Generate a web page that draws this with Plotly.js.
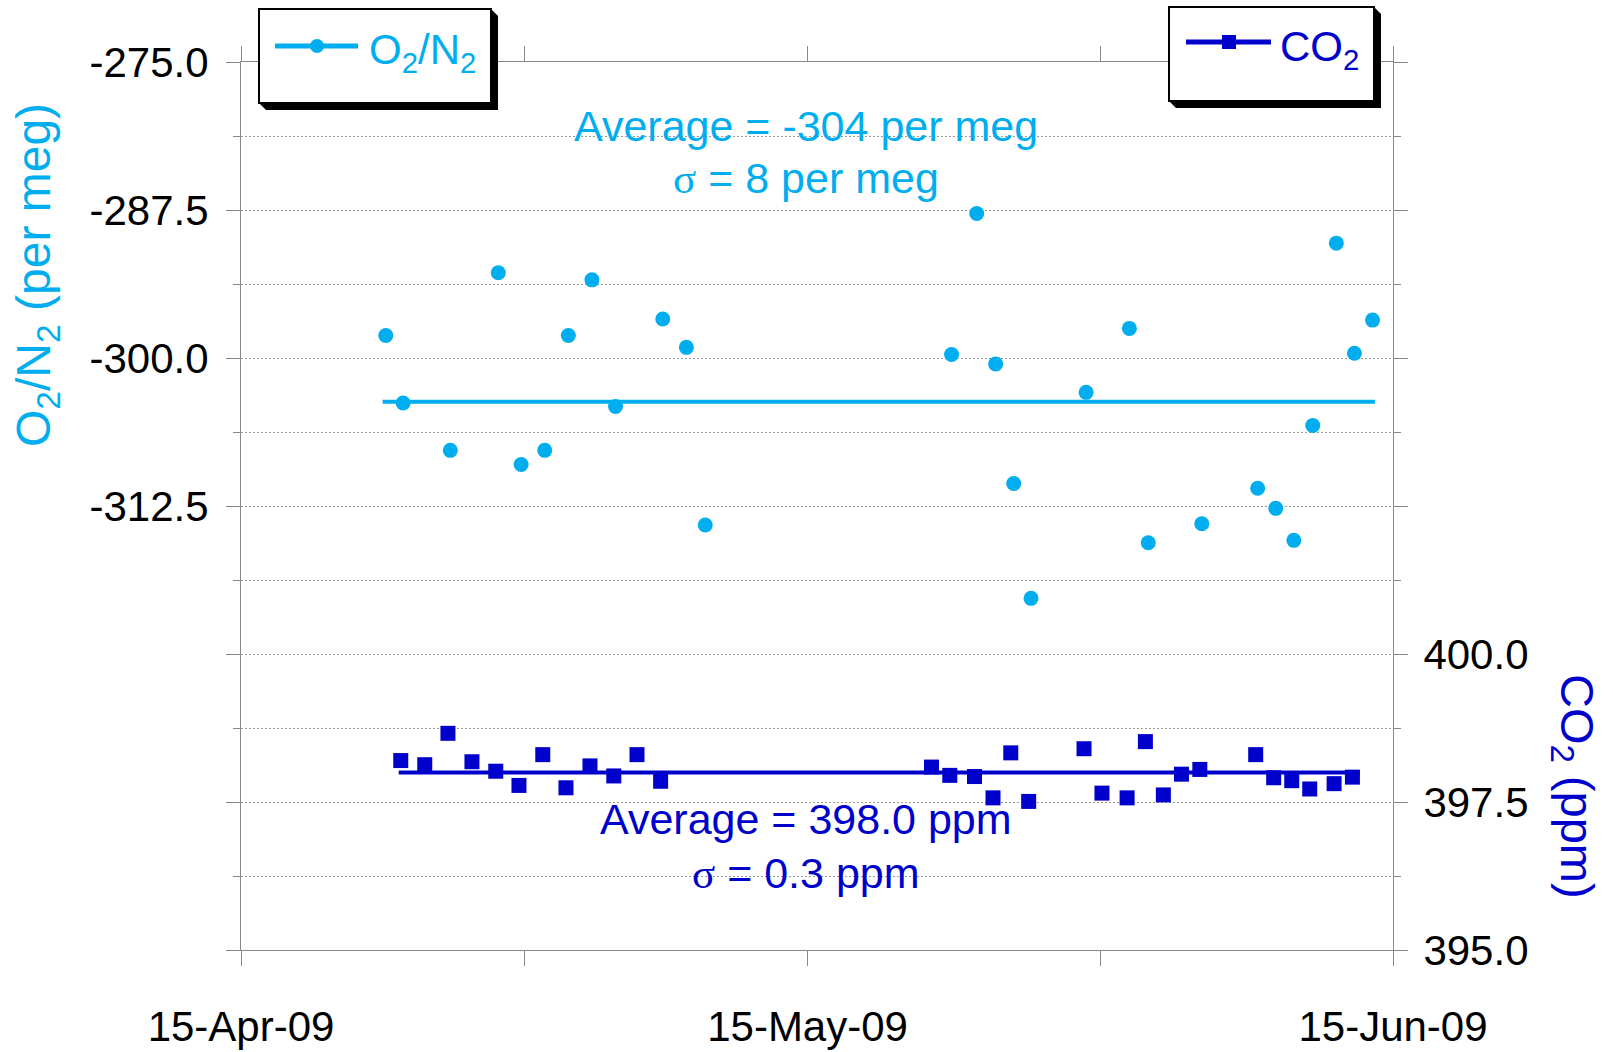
<!DOCTYPE html>
<html><head><meta charset="utf-8">
<script src="https://cdn.plot.ly/plotly-3.0.1.min.js"></script>
<style>html,body{margin:0;padding:0;background:#fff;}#chart{width:1613px;height:1052px;}</style>
</head><body><div id="chart"></div>
<script>
// ---- data ----
const o2Dates = ['2009-04-22 16:00','2009-04-23 14:00','2009-04-26 02:00','2009-04-28 15:00','2009-04-29 20:00','2009-05-01 02:00','2009-05-02 08:00','2009-05-03 14:00','2009-05-04 20:00','2009-05-07 08:00','2009-05-08 14:00','2009-05-09 14:00',
  '2009-05-22 15:00','2009-05-23 23:00','2009-05-24 23:00','2009-05-25 22:00','2009-05-26 20:00','2009-05-29 18:00','2009-06-01 01:00','2009-06-02 01:00','2009-06-04 21:00','2009-06-07 20:00','2009-06-08 19:00','2009-06-09 18:00','2009-06-10 18:00','2009-06-12 00:00','2009-06-12 23:00','2009-06-13 22:00'];
const o2Values = [-298.1,-303.8,-307.8,-292.8,-309.0,-307.8,-298.1,-293.4,-304.1,-296.7,-299.1,-314.1,
  -299.7,-287.8,-300.5,-310.6,-320.3,-302.9,-297.5,-315.6,-314.0,-311.0,-312.7,-315.4,-305.7,-290.3,-299.6,-296.8];
const co2Dates = ['2009-04-23 11:00','2009-04-24 17:30','2009-04-25 23:00','2009-04-27 05:30','2009-04-28 11:45','2009-04-29 17:15','2009-04-30 23:30','2009-05-02 05:00','2009-05-03 11:30','2009-05-04 17:45','2009-05-05 23:15','2009-05-07 05:15',
  '2009-05-21 13:30','2009-05-22 12:45','2009-05-23 20:10','2009-05-24 19:40','2009-05-25 18:15','2009-05-26 17:00','2009-05-29 15:20','2009-05-30 14:10','2009-05-31 22:05','2009-06-01 21:20','2009-06-02 20:10','2009-06-03 19:10','2009-06-04 18:30','2009-06-07 17:30','2009-06-08 16:20','2009-06-09 15:20','2009-06-10 14:10','2009-06-11 21:10','2009-06-12 20:25'];
const co2Values = [398.20,398.13,398.66,398.18,398.02,397.78,398.30,397.74,398.11,397.94,398.30,397.85,
  398.09,397.95,397.93,397.57,398.33,397.51,398.40,397.65,397.57,398.52,397.62,397.97,398.05,398.30,397.91,397.86,397.72,397.81,397.92];
const o2AvgDates = ['2009-04-22 12:00','2009-06-14 01:00'];
const o2Avg = -303.7;
const co2AvgDates = ['2009-04-23 08:25','2009-06-13 05:45'];
const co2Avg = 398.0;

const xRange = ['2009-04-15', '2009-06-15'];
const xTickVals = ['2009-04-15','2009-05-15','2009-06-15'];
const xTickText = ['15-Apr-09','15-May-09','15-Jun-09'];
const xMinorVals = ['2009-04-30','2009-05-30 12:00'];
const o2Range = [-350, -275];
const o2TickVals = [-275,-287.5,-300,-312.5];
const o2TickText = ['-275.0','-287.5','-300.0','-312.5'];
const o2UnlabelledVals = [-325,-337.5,-350];
const o2MinorVals = [-281.25,-293.75,-306.25,-318.75,-331.25,-343.75];
const co2Range = [395, 410];
const co2TickVals = [395,397.5,400];
const co2TickText = ['395.0','397.5','400.0'];
const co2UnlabelledVals = [402.5,405,407.5,410];
const co2MinorVals = [396.25,398.75,401.25,403.75,406.25,408.75];

const o2Label = 'O<sub>2</sub>/N<sub>2</sub>';
const co2Label = 'CO<sub>2</sub>';
const o2AxisTitle = 'O<sub>2</sub>/N<sub>2</sub> (per meg)';
const co2AxisTitle = 'CO<sub>2</sub> (ppm)';
const o2Stats = ['Average = -304 per meg', '<span style="font-family:Liberation Serif">σ</span> = 8 per meg'];
const co2Stats = ['Average = 398.0 ppm', '<span style="font-family:Liberation Serif">σ</span> = 0.3 ppm'];

// ---- styling ----
const O2C = '#00AEEF', CO2C = '#0000CC', AXC = '#888888', GRIDC = '#9a9a9a';
const FONT = 'Arial, "Liberation Sans", sans-serif';
const L = 241, R = 1393, T = 62, B = 950, FW = 1613, FH = 1052;
const W = R - L, H = B - T;
const px = p => (p - L) / W;
const py = p => (B - p) / H;

const traces = [
  {x: o2AvgDates, y: [o2Avg, o2Avg], mode: 'lines', line: {color: O2C, width: 4}, yaxis: 'y3', hoverinfo: 'skip', showlegend: false},
  {x: co2AvgDates, y: [co2Avg, co2Avg], mode: 'lines', line: {color: CO2C, width: 4}, yaxis: 'y4', hoverinfo: 'skip', showlegend: false},
  {x: o2Dates, y: o2Values, mode: 'markers', name: 'O2/N2', marker: {symbol: 'circle', size: 15, color: O2C}, yaxis: 'y', showlegend: false},
  {x: co2Dates, y: co2Values, mode: 'markers', name: 'CO2', marker: {symbol: 'square', size: 15, color: CO2C}, yaxis: 'y2', showlegend: false}
];

function legendShapes(x0, y0, x1, y1, off) {
  const shadow = {type: 'path', xref: 'paper', yref: 'paper', layer: 'above', fillcolor: '#000', line: {width: 0},
    path: `M${px(x0)},${py(y1)} L${px(x0+off)},${py(y1+off)} L${px(x1+off)},${py(y1+off)} L${px(x1+off)},${py(y0+off)} L${px(x1)},${py(y0)} Z`};
  const box = {type: 'rect', xref: 'paper', yref: 'paper', layer: 'above', x0: px(x0), x1: px(x1), y0: py(y1), y1: py(y0),
    fillcolor: '#fff', line: {color: '#000', width: 2}};
  return [shadow, box];
}
const shapes = [
  ...legendShapes(259, 9, 491, 103, 7),
  {type: 'line', xref: 'paper', yref: 'paper', layer: 'above', x0: px(275), x1: px(358), y0: py(46), y1: py(46), line: {color: O2C, width: 5}},
  {type: 'circle', xref: 'paper', yref: 'paper', layer: 'above', x0: px(310), x1: px(324), y0: py(53), y1: py(39), fillcolor: O2C, line: {width: 0}},
  ...legendShapes(1169, 7, 1374, 101, 7),
  {type: 'line', xref: 'paper', yref: 'paper', layer: 'above', x0: px(1186), x1: px(1271), y0: py(42), y1: py(42), line: {color: CO2C, width: 5}},
  {type: 'rect', xref: 'paper', yref: 'paper', layer: 'above', x0: px(1222), x1: px(1236), y0: py(49), y1: py(35), fillcolor: CO2C, line: {width: 0}}
];

const ann = (text, xp, yp, size, color, opts) => Object.assign({text, x: px(xp), y: py(yp), xref: 'paper', yref: 'paper',
  showarrow: false, xanchor: 'center', yanchor: 'middle', font: {family: FONT, size, color}}, opts || {});
const annotations = [
  ann(o2Label, 367, 52, 42, O2C, {xanchor: 'left'}),
  ann(co2Label, 1278, 50, 42, CO2C, {xanchor: 'left'}),
  ann(o2Stats[0], 806, 126, 43, O2C),
  ann(o2Stats[1], 806, 178, 43, O2C),
  ann(co2Stats[0], 806, 819, 43, CO2C),
  ann(co2Stats[1], 806, 873, 43, CO2C),
  ann(o2AxisTitle, 37, 275, 48, O2C, {textangle: -90}),
  ann(co2AxisTitle, 1574, 786, 47, CO2C, {textangle: 90})
];

const tickFont = {family: FONT, size: 42, color: '#000'};
const tickBase = {tickmode: 'array', ticks: 'outside', tickwidth: 1, tickcolor: AXC, zeroline: false, tickfont: tickFont};
const layout = {
  width: FW, height: FH,
  margin: {l: L, r: FW - R, t: T, b: FH - B, pad: 0},
  paper_bgcolor: '#fff', plot_bgcolor: '#fff',
  font: {family: FONT},
  showlegend: false,
  xaxis: Object.assign({}, tickBase, {type: 'date', range: xRange, tickvals: xTickVals, ticktext: xTickText,
    ticklen: 15, showline: true, linecolor: AXC, linewidth: 1, mirror: 'allticks', showgrid: false, ticklabelstandoff: 25,
    minor: {tickmode: 'array', tickvals: xMinorVals, ticks: 'outside', ticklen: 8, tickcolor: AXC, showgrid: false}}),
  yaxis: Object.assign({}, tickBase, {range: o2Range, tickvals: o2TickVals, ticktext: o2TickText,
    ticklen: 14, showline: true, linecolor: AXC, linewidth: 1,
    showgrid: true, gridcolor: GRIDC, gridwidth: 1, griddash: '2px,2px', ticklabelstandoff: 9,
    minor: {tickmode: 'array', tickvals: o2MinorVals, ticks: 'outside', ticklen: 7, tickcolor: AXC, showgrid: true, gridcolor: GRIDC, gridwidth: 1, griddash: '2px,2px'}}),
  yaxis3: Object.assign({}, tickBase, {range: o2Range, overlaying: 'y', side: 'left', anchor: 'x', tickvals: o2UnlabelledVals,
    ticklen: 14, showticklabels: false, showline: false, showgrid: true, gridcolor: GRIDC, gridwidth: 1, griddash: '2px,2px'}),
  yaxis2: Object.assign({}, tickBase, {range: co2Range, overlaying: 'y', side: 'right', anchor: 'x', tickvals: co2TickVals, ticktext: co2TickText,
    ticklen: 14, showline: true, linecolor: AXC, linewidth: 1, showgrid: false, ticklabelstandoff: 7,
    minor: {tickmode: 'array', tickvals: co2MinorVals, ticks: 'outside', ticklen: 7, tickcolor: AXC, showgrid: false}}),
  yaxis4: Object.assign({}, tickBase, {range: co2Range, overlaying: 'y', side: 'right', anchor: 'x', tickvals: co2UnlabelledVals,
    ticklen: 14, showticklabels: false, showline: false, showgrid: false}),
  shapes, annotations
};
Plotly.newPlot('chart', traces, layout, {staticPlot: true, displayModeBar: false});
</script>
</body></html>
